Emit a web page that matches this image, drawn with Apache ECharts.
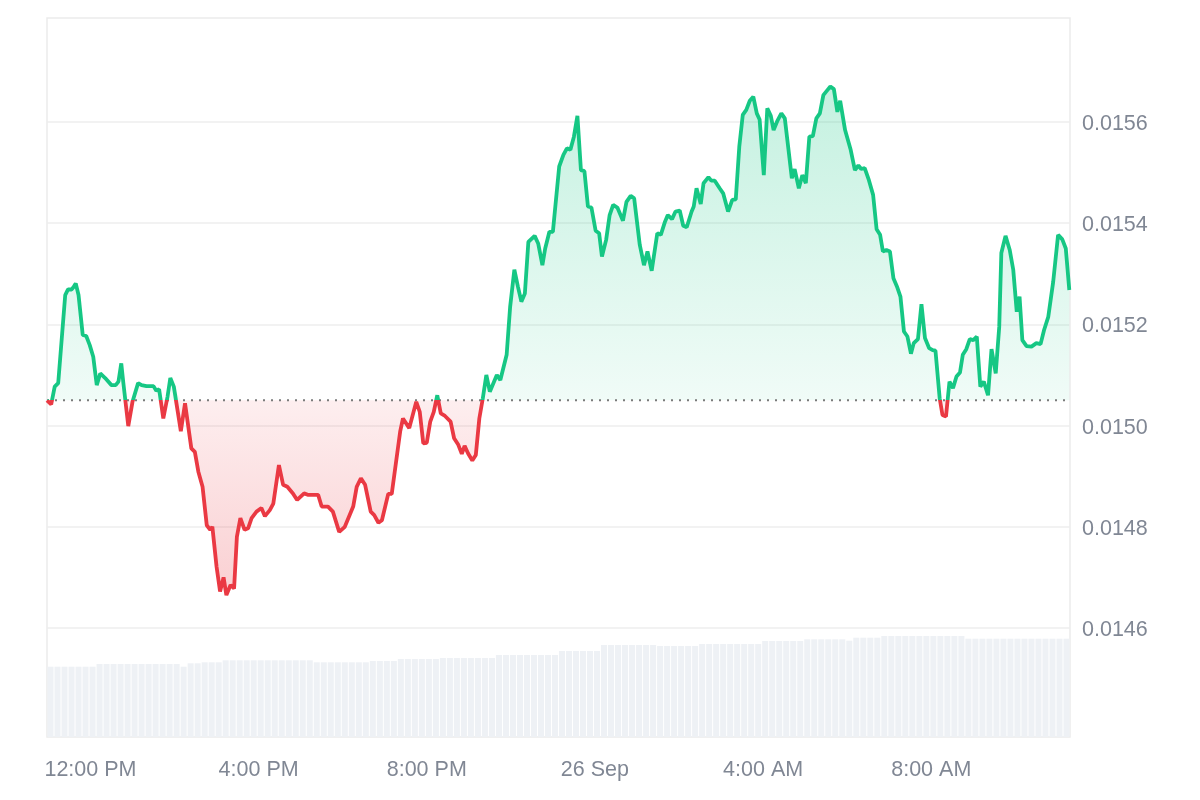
<!DOCTYPE html>
<html>
<head>
<meta charset="utf-8">
<script src="https://cdn.jsdelivr.net/npm/echarts@6/dist/echarts.min.js"></script>
<style>
html,body{margin:0;padding:0;background:#fff;}
#chart{width:1200px;height:800px;}
</style>
</head>
<body>
<div id="chart"></div>
<script>
// Time in minutes relative to 12:00 PM (25 Sep)
const times = [
  -62,-56,-51,-46,-36,-32,-27,-24,-21,-17,
  -11,-6,-1,4,9,14,21,30,36,40,
  44,47,54,60,68,73,80,90,94,98,
  104,110,114,119,129,135,144,149,154,160,
  166,171,174,180,185,190,194,200,205,209,
  214,220,225,230,237,244,249,256,261,269,
  275,281,289,295,305,311,325,330,339,346,
  355,363,375,380,386,392,400,405,411,416,
  425,430,442,446,455,465,470,475,480,485,
  490,495,500,506,514,519,525,530,534,539,
  545,550,555,560,565,570,580,585,594,599,
  605,610,615,620,625,634,639,645,649,655,
  660,669,675,680,685,690,695,700,705,710,
  715,721,726,730,736,741,746,752,760,765,
  771,776,784,790,795,801,809,814,820,824,
  830,835,841,846,851,858,861,865,871,875,
  882,886,891,898,903,910,916,921,926,931,
  936,941,946,951,955,961,966,971,975,980,
  986,991,996,1001,1005,1011,1016,1021,1026,1031,
  1036,1041,1046,1050,1056,1061,1066,1070,1077,1085,
  1091,1096,1100,1105,1111,1117,1122,1127,1131,1136,
  1141,1146,1151,1156,1161,1166,1171,1175,1181,1186,
  1191,1197,1202,1206,1212,1216,1221,1226,1231,1236,
  1241,1245,1250,1255,1260,1265,1270,1275,1281,1286,
  1292,1297,1300,1306,1312,1317,1322,1326,1330,1336,
  1343,1350,1356,1361,1367,1374,1381,1387,1392,1397
];
const prices = [
  0.015050,0.015042,0.015077,0.015084,0.015258,0.015269,0.015269,0.015274,0.015281,0.015258,
  0.015179,0.015177,0.015159,0.015136,0.015080,0.015103,0.015094,0.015080,0.015080,0.015087,
  0.015123,0.015084,0.014999,0.015047,0.015084,0.015080,0.015078,0.015078,0.015069,0.015072,
  0.015014,0.015057,0.015094,0.015077,0.014989,0.015044,0.014955,0.014948,0.014909,0.014879,
  0.014803,0.014794,0.014800,0.014721,0.014672,0.014700,0.014665,0.014685,0.014678,0.014780,
  0.014817,0.014794,0.014797,0.014817,0.014830,0.014837,0.014821,0.014833,0.014846,0.014922,
  0.014883,0.014879,0.014866,0.014853,0.014866,0.014863,0.014863,0.014840,0.014840,0.014830,
  0.014790,0.014800,0.014840,0.014879,0.014896,0.014883,0.014830,0.014823,0.014808,0.014813,
  0.014865,0.014865,0.014988,0.015014,0.014995,0.015047,0.015027,0.014965,0.014966,0.015008,
  0.015027,0.015060,0.015024,0.015019,0.015008,0.014975,0.014962,0.014944,0.014960,0.014945,
  0.014931,0.014942,0.015014,0.015054,0.015100,0.015067,0.015100,0.015090,0.015140,0.015235,
  0.015308,0.015275,0.015245,0.015261,0.015363,0.015375,0.015360,0.015317,0.015350,0.015383,
  0.015383,0.015512,0.015535,0.015548,0.015545,0.015571,0.015612,0.015505,0.015503,0.015433,
  0.015431,0.015385,0.015380,0.015334,0.015367,0.015416,0.015436,0.015431,0.015405,0.015442,
  0.015454,0.015449,0.015357,0.015317,0.015344,0.015306,0.015380,0.015377,0.015403,0.015416,
  0.015408,0.015423,0.015425,0.015395,0.015392,0.015423,0.015433,0.015469,0.015438,0.015479,
  0.015491,0.015484,0.015484,0.015469,0.015459,0.015423,0.015446,0.015447,0.015551,0.015614,
  0.015624,0.015642,0.015650,0.015617,0.015605,0.015495,0.015627,0.015612,0.015584,0.015601,
  0.015617,0.015607,0.015548,0.015489,0.015507,0.015469,0.015495,0.015479,0.015571,0.015572,
  0.015607,0.015617,0.015653,0.015660,0.015670,0.015665,0.015620,0.015642,0.015584,0.015545,
  0.015505,0.015514,0.015507,0.015509,0.015485,0.015456,0.015388,0.015377,0.015344,0.015347,
  0.015344,0.015291,0.015275,0.015255,0.015186,0.015176,0.015142,0.015163,0.015171,0.015240,
  0.015173,0.015153,0.015149,0.015148,0.015054,0.015021,0.015018,0.015087,0.015074,0.015097,
  0.015105,0.015140,0.015151,0.015171,0.015169,0.015176,0.015077,0.015087,0.015060,0.015151,
  0.015103,0.015195,0.015341,0.015375,0.015347,0.015308,0.015225,0.015255,0.015169,0.015157,
  0.015156,0.015163,0.015161,0.015189,0.015215,0.015284,0.015377,0.015368,0.015350,0.015268
];
// Reference (opening) price shown as dotted baseline
const basePrice = 0.01505;

// Volume (arbitrary units, millions), one bar per 10 minutes starting at -57 min
const volStart = -57;
const volStep = 10;
const volumes = [
  7.03,7.03,7.03,7.03,7.03,7.03,7.03,
  7.30,7.30,7.30,7.30,7.30,7.30,7.30,7.30,7.30,7.30,7.30,7.30,
  7.03,
  7.37,7.37,
  7.47,7.47,7.47,
  7.67,7.67,7.67,7.67,7.67,7.67,7.67,7.67,7.67,7.67,7.67,7.67,7.67,
  7.47,7.47,7.47,7.47,7.47,7.47,7.47,7.47,
  7.60,7.60,7.60,7.60,
  7.80,7.80,7.80,7.80,7.80,7.80,
  7.90,7.90,7.90,7.90,7.90,7.90,7.90,7.90,
  8.20,8.20,8.20,8.20,8.20,8.20,8.20,8.20,8.20,
  8.60,8.60,8.60,8.60,8.60,8.60,
  9.20,9.20,9.20,9.20,9.20,9.20,9.20,9.20,
  9.10,9.10,9.10,9.10,9.10,9.10,
  9.30,9.30,9.30,9.30,9.30,9.30,9.30,9.30,9.30,
  9.60,9.60,9.60,9.60,9.60,9.60,
  9.77,9.77,9.77,9.77,9.77,9.77,
  9.63,
  9.93,9.93,9.93,9.93,
  10.10,10.10,10.10,10.10,10.10,10.10,10.10,10.10,10.10,10.10,10.10,10.10,
  9.83,9.83,9.83,9.83,9.83,9.83,9.83,9.83,9.83,9.83,9.83,9.83,9.83,9.83,9.83
];

const xTickValues = [0, 240, 480, 720, 960, 1200];
const xTickLabels = ['12:00 PM', '4:00 PM', '8:00 PM', '26 Sep', '4:00 AM', '8:00 AM'];
const yTickValues = [0.0146, 0.0148, 0.0150, 0.0152, 0.0154, 0.0156];

const xMin = -62, xMax = 1398;
const yMin = 0.0143846, yMax = 0.0158055;
const volAxisMax = 71.9;

// build library data
const lineData = times.map((t, i) => [t, prices[i]]);
const upData = times.map((t, i) => [t, Math.max(prices[i], basePrice)]);
const downData = times.map((t, i) => [t, Math.min(prices[i], basePrice)]);
const volData = volumes.map((v, i) => [volStart + i * volStep, v]);
const baseData = [[xMin, basePrice], [xMax, basePrice]];

const GREEN = '#16c784';
const RED = '#ea3943';
const labelColor = '#808794';
const font = "'Liberation Sans', Arial, sans-serif";

const chart = echarts.init(document.getElementById('chart'), null, {renderer: 'canvas'});
chart.setOption({
  animation: false,
  backgroundColor: '#ffffff',
  grid: {
    left: 47, right: 130, top: 18, bottom: 63,
    show: true, borderColor: '#ebebeb', borderWidth: 1.5, backgroundColor: 'transparent'
  },
  xAxis: {
    type: 'value', min: xMin, max: xMax,
    axisLine: {show: false},
    axisTick: {show: false, customValues: xTickValues},
    splitLine: {show: false},
    axisLabel: {
      customValues: xTickValues,
      formatter: v => xTickLabels[xTickValues.indexOf(v)] || '',
      color: labelColor, fontSize: 21.5, fontFamily: font, margin: 22
    }
  },
  yAxis: [{
    type: 'value', position: 'right', min: yMin, max: yMax,
    axisLine: {show: false},
    axisTick: {show: false, customValues: yTickValues},
    splitLine: {show: true, lineStyle: {color: '#eeeeee', width: 1.5}},
    axisLabel: {
      customValues: yTickValues,
      formatter: v => v.toFixed(4),
      color: labelColor, fontSize: 21.5, fontFamily: font, margin: 12,
      verticalAlign: 'top', lineHeight: 4
    }
  }, {
    type: 'value', min: 0, max: volAxisMax, show: false,
    splitLine: {show: false}
  }],
  visualMap: {
    show: false, type: 'piecewise', seriesIndex: 3, dimension: 1,
    pieces: [
      {gt: 0.01, lte: basePrice, color: RED},
      {gt: basePrice, lt: 0.02, color: GREEN}
    ],
    outOfRange: {color: GREEN}
  },
  series: [
    {
      type: 'bar', yAxisIndex: 1, data: volData, barWidth: '86%',
      itemStyle: {color: '#eef1f5'}, silent: true, z: 1
    },
    {
      type: 'line', data: upData, showSymbol: false, symbol: 'none',
      lineStyle: {width: 0, opacity: 0}, silent: true, z: 2,
      areaStyle: {
        origin: basePrice,
        color: new echarts.graphic.LinearGradient(0, 0, 0, 1, [
          {offset: 0, color: 'rgba(22,199,132,0.36)'},
          {offset: 1, color: 'rgba(22,199,132,0.09)'}
        ])
      }
    },
    {
      type: 'line', data: downData, showSymbol: false, symbol: 'none',
      lineStyle: {width: 0, opacity: 0}, silent: true, z: 2,
      areaStyle: {
        origin: basePrice,
        color: new echarts.graphic.LinearGradient(0, 0, 0, 1, [
          {offset: 0, color: 'rgba(234,57,67,0.12)'},
          {offset: 1, color: 'rgba(234,57,67,0.34)'}
        ])
      }
    },
    {
      type: 'line', data: lineData, showSymbol: false, symbol: 'none', z: 5,
      lineStyle: {width: 3.8}, silent: true
    },
    {
      type: 'line', data: baseData, showSymbol: false, symbol: 'none', z: 3,
      silent: true,
      lineStyle: {type: [2, 6], color: '#7a7a7a', width: 2}
    }
  ]
});
</script>
</body>
</html>
